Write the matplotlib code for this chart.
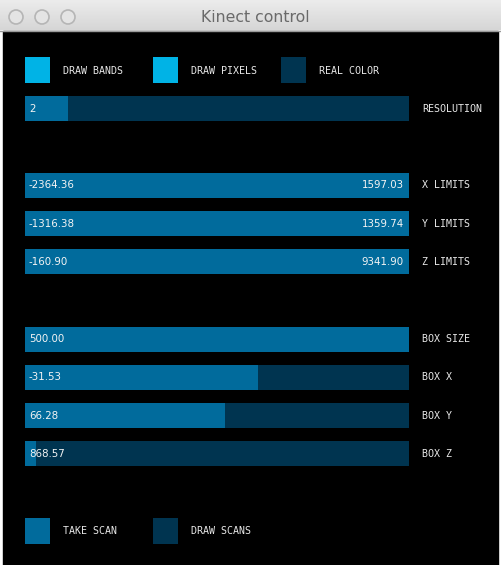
import matplotlib
matplotlib.use("Agg")
import matplotlib.pyplot as plt
from matplotlib.patches import Circle, Rectangle
import numpy as np

# ---- data ----
title = "Kinect control"
toggle_labels = ["DRAW BANDS", "DRAW PIXELS", "REAL COLOR"]
toggle_states = [True, True, False]

res_label = "RESOLUTION"
res_value = 2
res_min, res_max = 1, 10

range_labels = ["X LIMITS", "Y LIMITS", "Z LIMITS"]
range_lo = ["-2364.36", "-1316.38", "-160.90"]
range_hi = ["1597.03", "1359.74", "9341.90"]

box_labels = ["BOX SIZE", "BOX X", "BOX Y", "BOX Z"]
box_values = ["500.00", "-31.53", "66.28", "868.57"]
box_fill = [1.0, 0.607, 0.521, 0.029]

button_labels = ["TAKE SCAN", "DRAW SCANS"]
button_states = [True, False]

# ---- style ----
C_BG = "#003450"
C_FG = "#016b9c"
C_ACT = "#00b3e6"
W, H = 502, 565
pix_font = dict(family="DejaVu Sans Mono", fontsize=7.2, color="#e8e8e8")
val_font = dict(family="DejaVu Sans", fontsize=7.4, color="#f4f4f4")

fig = plt.figure(figsize=(W / 100, H / 100), dpi=100)
ax = fig.add_axes([0, 0, 1, 1])
ax.set_xlim(0, W)
ax.set_ylim(H, 0)
ax.axis("off")

# window chrome
ax.add_patch(Rectangle((0, 0), W, H, color="white", zorder=0))
grad = np.linspace(0, 1, 50).reshape(-1, 1)
ax.imshow(grad, extent=(0, W, 30, 0), cmap=matplotlib.colors.LinearSegmentedColormap.from_list(
    "t", ["#ececec", "#d6d6d6"]), aspect="auto", zorder=1)
ax.plot([0, W], [30.5, 30.5], color="#9a9a9a", lw=1, zorder=2)
ax.add_patch(Rectangle((3, 31), 495, H - 31, color="black", zorder=1))
for cx in [16, 42, 68]:
    ax.add_patch(Circle((cx, 17), 7, facecolor="#e4e4e4", edgecolor="#b5b5b5", lw=1.2, zorder=3))
ax.text(255, 17.5, title, ha="center", va="center", fontsize=11.3, color="#6a6a6a",
        family="DejaVu Sans", zorder=3)

X0, SW = 25, 384
LAB_X = 422

def slider(yc, frac):
    ax.barh([yc], [SW], left=X0, height=25, color=C_BG, zorder=3)
    ax.barh([yc], [SW * frac], left=X0, height=25, color=C_FG, zorder=4)

# toggles
for i, (lab, st) in enumerate(zip(toggle_labels, toggle_states)):
    x = X0 + 128 * i
    ax.bar([x + 12.5], [26], bottom=57, width=25, color=C_ACT if st else C_BG, zorder=3)
    ax.text(x + 38, 71, lab, va="center", ha="left", zorder=5, **pix_font)

# resolution slider
yc = 108.5
slider(yc, (res_value - res_min) / (res_max - res_min))
ax.text(X0 + 4, yc, str(res_value), va="center", ha="left", zorder=5, **val_font)
ax.text(LAB_X, yc, res_label, va="center", ha="left", zorder=5, **pix_font)

# range sliders
for i in range(3):
    yc = 185.5 + 38.2 * i
    slider(yc, 1.0)
    ax.text(X0 + 4, yc, range_lo[i], va="center", ha="left", zorder=5, **val_font)
    ax.text(X0 + SW - 5, yc, range_hi[i], va="center", ha="right", zorder=5, **val_font)
    ax.text(LAB_X, yc, range_labels[i], va="center", ha="left", zorder=5, **pix_font)

# box sliders
for i in range(4):
    yc = 339 + 38.3 * i
    slider(yc, box_fill[i])
    ax.text(X0 + 4, yc, box_values[i], va="center", ha="left", zorder=5, **val_font)
    ax.text(LAB_X, yc, box_labels[i], va="center", ha="left", zorder=5, **pix_font)

# buttons
for i, (lab, st) in enumerate(zip(button_labels, button_states)):
    x = X0 + 128 * i
    ax.bar([x + 12.5], [26], bottom=518, width=25, color=C_FG if st else C_BG, zorder=3)
    ax.text(x + 38, 531, lab, va="center", ha="left", zorder=5, **pix_font)

fig.savefig("out.png", dpi=100, facecolor="white")
